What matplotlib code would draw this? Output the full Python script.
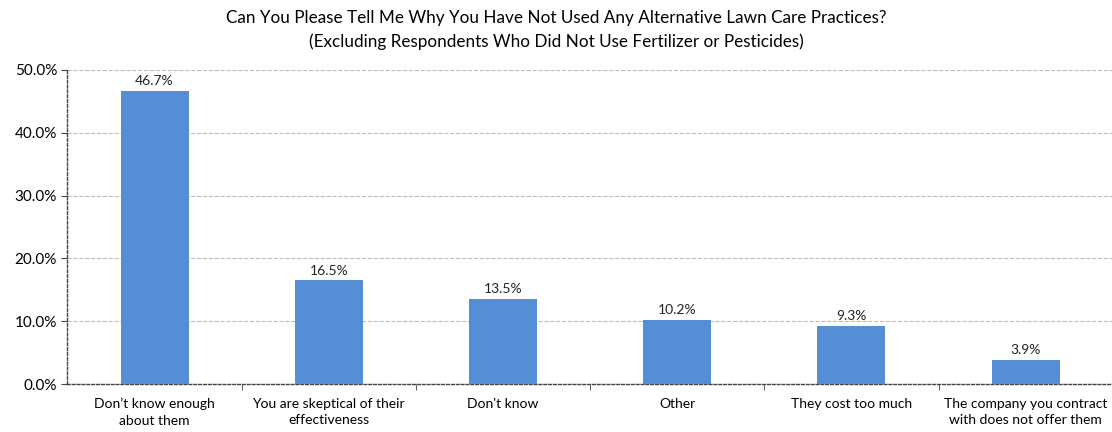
import matplotlib.pyplot as plt
from matplotlib.ticker import FuncFormatter, FixedLocator

plt.rcParams['font.family'] = ['Lato', 'DejaVu Sans']

categories = [
    "Don\u2019t know enough\nabout them",
    "You are skeptical of their\neffectiveness",
    "Don't know",
    "Other",
    "They cost too much",
    "The company you contract\nwith does not offer them",
]
values = [46.7, 16.5, 13.5, 10.2, 9.3, 3.9]

title = ("Can You Please Tell Me Why You Have Not Used Any Alternative Lawn Care Practices?\n"
         "(Excluding Respondents Who Did Not Use Fertilizer or Pesticides)")


def main():
    fig = plt.figure(figsize=(11.12, 4.32), dpi=100)
    ax = fig.add_axes([0.0607, 0.111, 0.94, 0.727])

    x = list(range(len(categories)))
    bars = ax.bar(x, values, width=0.39, color='#558ED5', zorder=3)
    for b, v in zip(bars, values):
        ax.text(b.get_x() + b.get_width() / 2, v + 0.6, f"{v:.1f}%",
                ha='center', va='bottom', fontsize=10, color='#222222')

    ax.set_xlim(-0.5, len(categories) - 0.5)
    ax.set_ylim(0, 50)
    ax.set_yticks([0, 10, 20, 30, 40, 50])
    ax.yaxis.set_major_formatter(FuncFormatter(lambda v, _: f"{v:.1f}%"))
    ax.tick_params(axis='y', labelsize=11, length=4, color='#444444')

    ax.set_xticks(x)
    ax.set_xticklabels(categories, fontsize=10, linespacing=1.45)
    ax.tick_params(axis='x', length=0, pad=10)
    ax.xaxis.set_minor_locator(FixedLocator([i + 0.5 for i in range(len(categories) - 1)]))
    ax.tick_params(axis='x', which='minor', length=4, color='#444444')

    ax.grid(axis='y', linestyle='--', color='#BBBBBB', linewidth=0.8, zorder=0)
    for side in ['top', 'right']:
        ax.spines[side].set_visible(False)
    for side in ['left', 'bottom']:
        ax.spines[side].set_linestyle((0, (2, 1.5)))
        ax.spines[side].set_color('#444444')
        ax.spines[side].set_linewidth(1.0)

    fig.suptitle(title, fontsize=12.3, y=0.978, linespacing=1.6)
    fig.savefig('out.png', dpi=100)


if __name__ == '__main__':
    main()
